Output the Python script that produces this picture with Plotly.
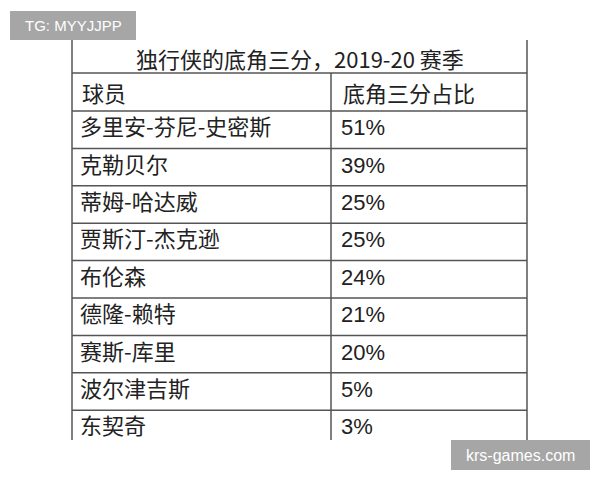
import plotly.graph_objects as go

title = "独行侠的底角三分，2019-20 赛季"
headers = ["球员", "底角三分占比"]
players = ["多里安-芬尼-史密斯", "克勒贝尔", "蒂姆-哈达威", "贾斯汀-杰克逊", "布伦森",
           "德隆-赖特", "赛斯-库里", "波尔津吉斯", "东契奇"]
pcts = ["51%", "39%", "25%", "25%", "24%", "21%", "20%", "5%", "3%"]

FONT = "Noto Sans CJK SC"
left, mid, right = 72, 331, 527
top, title_bot, head_bot = 40, 73, 111
row_h = 37.4
bottom = 440

fig = go.Figure()
line = dict(color="#555555", width=1.5)

# outer verticals
fig.add_shape(type="line", x0=left, x1=left, y0=top, y1=bottom, line=line)
fig.add_shape(type="line", x0=right, x1=right, y0=top, y1=bottom, line=line)
fig.add_shape(type="line", x0=mid, x1=mid, y0=title_bot, y1=bottom, line=line)
# horizontals
ys = [title_bot, head_bot] + [head_bot + row_h * (i + 1) for i in range(len(players) - 1)]
for y in ys:
    fig.add_shape(type="line", x0=left, x1=right, y0=y, y1=y, line=line)

fig.add_annotation(x=(left + right) / 2, y=(top + title_bot) / 2 + 1, text=title,
                   showarrow=False, font=dict(family=FONT, size=22, color="#222"))
hy = (title_bot + head_bot) / 2
fig.add_annotation(x=left + 8, y=hy, text=headers[0], xanchor="left", showarrow=False,
                   font=dict(family=FONT, size=22, color="#222"))
fig.add_annotation(x=mid + 10, y=hy, text=headers[1], xanchor="left", showarrow=False,
                   font=dict(family=FONT, size=22, color="#222"))

row_y = [head_bot + row_h * (i + 0.5) for i in range(len(players))]
fig.add_trace(go.Scatter(x=[left + 8] * len(players), y=row_y, text=players, mode="text",
                         textposition="middle right", hoverinfo="skip",
                         textfont=dict(family=FONT, size=22, color="#222")))
fig.add_trace(go.Scatter(x=[mid + 10] * len(pcts), y=row_y, text=pcts, mode="text",
                         textposition="middle right", hoverinfo="skip",
                         textfont=dict(family="Liberation Sans Narrow, Liberation Sans", size=22, color="#222")))

# watermarks
fig.add_shape(type="rect", x0=10, x1=136, y0=11, y1=40, fillcolor="#a6a6a6", line_width=0)
fig.add_annotation(x=73, y=25.5, text="TG: MYYJJPP", showarrow=False,
                   font=dict(family="Liberation Sans", size=15, color="white"))
fig.add_shape(type="rect", x0=451, x1=590, y0=440, y1=470, fillcolor="#a6a6a6", line_width=0)
fig.add_annotation(x=520.5, y=455, text="krs-games.com", showarrow=False,
                   font=dict(family="Liberation Sans", size=16, color="white"))

# page body has an 8px margin, so the view is offset by 8px
fig.update_layout(width=600, height=480, margin=dict(l=0, r=0, t=0, b=0),
                  plot_bgcolor="white", paper_bgcolor="white", showlegend=False,
                  xaxis=dict(range=[8, 608], visible=False, fixedrange=True),
                  yaxis=dict(range=[488, 8], visible=False, fixedrange=True))
fig.write_html("out.html")
